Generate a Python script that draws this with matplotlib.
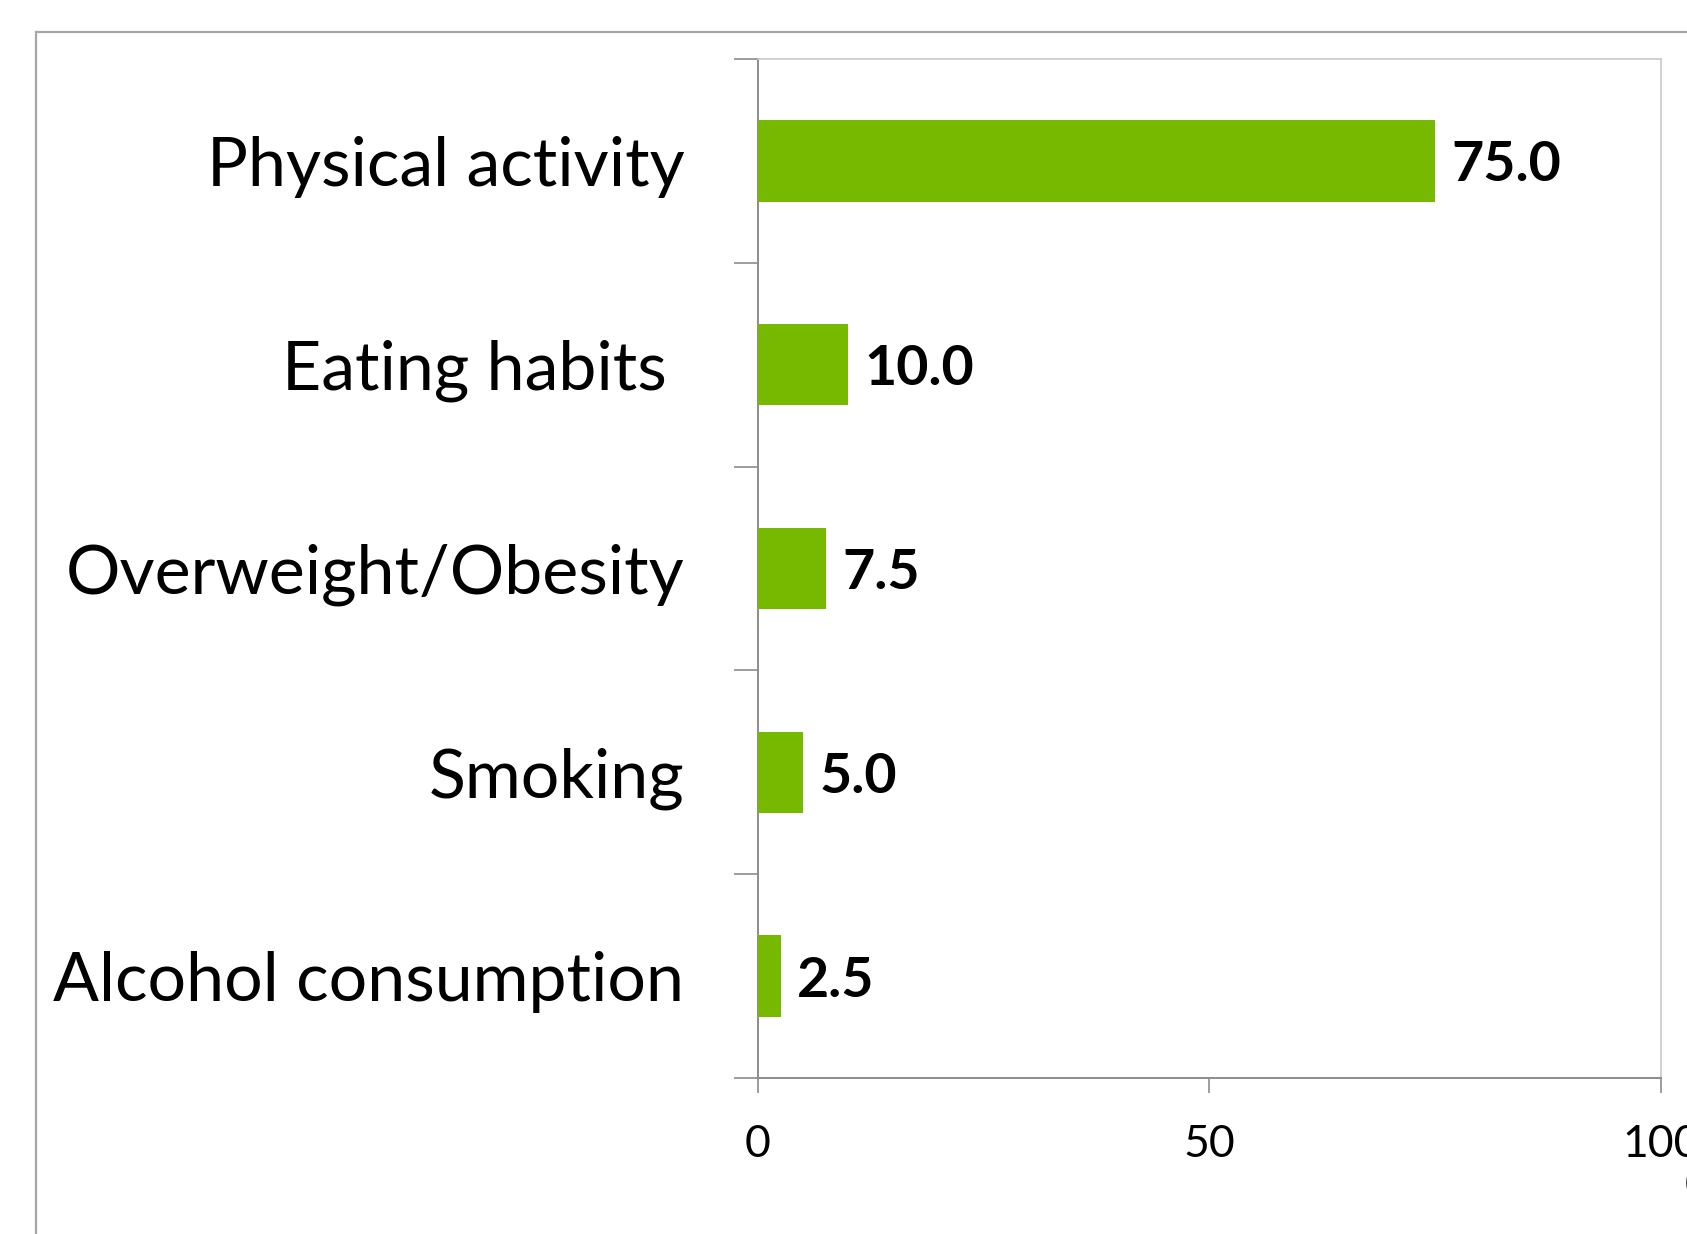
import matplotlib.pyplot as plt
from matplotlib.patches import Rectangle
from matplotlib.ticker import FixedLocator

# Share of respondents naming each risk factor (%)
categories = ['Alcohol consumption', 'Smoking', 'Overweight/Obesity', 'Eating habits ', 'Physical activity']
values = [2.5, 5.0, 7.5, 10.0, 75.0]
x_ticks = [0, 50, 100]

bar_color = '#77b800'
font = 'Lato'

fig = plt.figure(figsize=(16.87, 12.34), dpi=100)
ax = fig.add_axes([0.4493, 0.1264, 0.5353, 0.8258])

# Outer chart frame, partly cut off by the image edge
fig.patches.append(Rectangle((0.0213, -0.1), 1.2, 1.074, transform=fig.transFigure,
                             fill=False, edgecolor='#a6a6a6', linewidth=1.6))

ypos = range(len(categories))
ax.barh(ypos, values, height=0.4, color=bar_color, zorder=3)

for y, v in zip(ypos, values):
    ax.text(v + 1.8, y, f'{v:.1f}', va='center_baseline', ha='left', fontsize=40,
            fontweight='bold', family=font, color='black')

ax.set_xlim(0, 100)
ax.set_ylim(-0.5, len(categories) - 0.5)
ax.set_xticks(x_ticks)
ax.set_xticklabels([str(t) for t in x_ticks], family=font, fontsize=32)

# Category labels in the middle of each slot, tick marks on the slot borders
ax.set_yticks(list(ypos))
ax.set_yticklabels(categories, family=font, fontsize=49, va='center_baseline')
ax.yaxis.set_minor_locator(FixedLocator([i - 0.5 for i in range(len(categories) + 1)]))
ax.tick_params(axis='y', which='major', length=0, pad=53)
ax.tick_params(axis='y', which='minor', length=17, width=1.2, color='#8c8c8c', direction='out')
ax.tick_params(axis='x', which='major', length=11, width=1.2, color='#8c8c8c', direction='out', pad=22)

for side in ['left', 'bottom']:
    ax.spines[side].set_color('#8c8c8c')
    ax.spines[side].set_linewidth(1.4)
for side in ['top', 'right']:
    ax.spines[side].set_color('#c8c8c8')
    ax.spines[side].set_linewidth(1.2)

# Unit label at the right, cut off by the edge
fig.text(0.9985, 0.03, '(%)', family=font, fontsize=20, ha='left', va='bottom')

fig.savefig('out.png', dpi=100)
